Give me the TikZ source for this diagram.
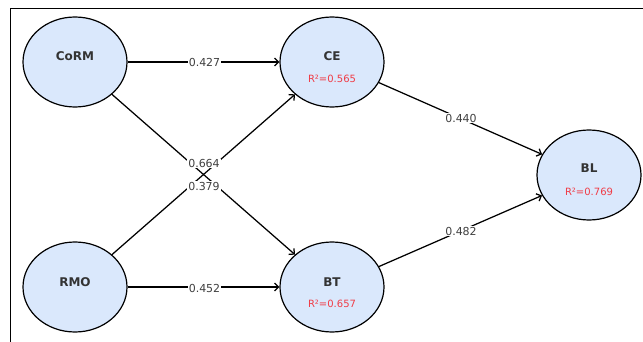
\documentclass[tikz,border=0pt]{standalone}
\usepackage{fontspec}
\setmainfont{DejaVu Sans}
\usetikzlibrary{shapes.geometric,arrows.meta}
\definecolor{nodefill}{HTML}{DAE8FC}
\definecolor{rsq}{HTML}{F03C46}
\definecolor{lbl}{HTML}{404040}
\definecolor{nametxt}{HTML}{333333}
\tikzset{
  construct/.style={ellipse, draw=black, line width=1.2pt, fill=nodefill,
    minimum width=104pt, minimum height=90pt, inner sep=0pt},
  cname/.style={font=\fontsize{12}{13}\selectfont\bfseries, text=nametxt, inner sep=0pt},
  rtxt/.style={font=\fontsize{10}{11}\selectfont, text=rsq, inner sep=0pt},
  path/.style={draw=black, line width=1.25pt, -{Straight Barb[length=4pt,width=8pt,line width=1.25pt]}},
  wlabel/.style={font=\fontsize{11}{12}\selectfont, text=lbl, fill=white, inner sep=0.8pt},
  frame/.style={draw=black, line width=0.9pt}
}
\begin{document}
\begin{tikzpicture}[x=1pt,y=-1pt]
\useasboundingbox (0,0) rectangle (643,342);
% frame
\coordinate (ftr) at (643,8.5);
\coordinate (ftl) at (10.5,8.5);
\coordinate (fbl) at (10.5,342);
\draw[frame] (ftr) -- (ftl) -- (fbl);
% constructs
\node[construct] (CoRM) at (75,62) {};
\node[construct] (CE) at (332,62) {};
\node[construct] (RMO) at (75,287) {};
\node[construct] (BT) at (332,287) {};
\node[construct] (BL) at (589,175) {};
% names
\node[cname] (tCoRM) at (75,56) {CoRM};
\node[cname] (tCE) at (332,56) {CE};
\node[cname] (tRMO) at (75,282) {RMO};
\node[cname] (tBT) at (332,282) {BT};
\node[cname] (tBL) at (589,168.5) {BL};
\node[rtxt] (rCE) at (332,79) {R²=0.565};
\node[rtxt] (rBT) at (332,304) {R²=0.657};
\node[rtxt] (rBL) at (589,191.5) {R²=0.769};
% paths
\draw[path] (CoRM) -- (CE);
\draw[path] (RMO) -- (BT);
\draw[path] (CoRM) -- (BT);
\draw[path] (RMO) -- (CE);
\draw[path] (CE) -- (BL);
\draw[path] (BT) -- (BL);
% path labels
\node[wlabel] (l1) at (204.5,62) {0.427};
\node[wlabel] (l2) at (204.5,288) {0.452};
\node[wlabel] (l3) at (204,163.5) {0.664};
\node[wlabel] (l4) at (204,186) {0.379};
\node[wlabel] (l5) at (461,118) {0.440};
\node[wlabel] (l6) at (461,231) {0.482};
\end{tikzpicture}
\end{document}
